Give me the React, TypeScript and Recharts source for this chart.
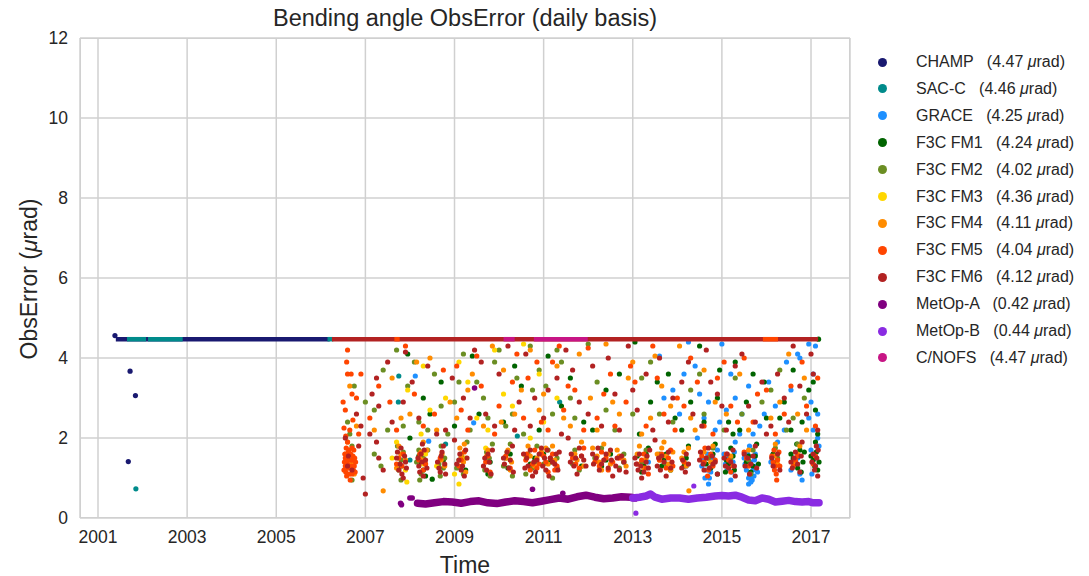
import { ScatterChart, Scatter, XAxis, YAxis, CartesianGrid } from "recharts";

type P = [number, number];

const X_TICKS = [2001, 2003, 2005, 2007, 2009, 2011, 2013, 2015, 2017];
const Y_TICKS = [0, 2, 4, 6, 8, 10, 12];
const FLAT = 4.47;

// flat 4.47 stretches, [start, end] in years
const CHAMP_SEG: P[] = [[2001.4, 2006.2]];
const SACC_SEG: P[] = [[2001.65, 2002.08], [2002.12, 2002.9], [2006.15, 2006.28]];
const FM6_SEG: P[] = [[2006.25, 2017.16]];
const FM5_SEG: P[] = [[2007.65, 2007.77], [2015.92, 2016.26]];
const CNOFS_SEG: P[] = [[2010.1, 2010.35], [2010.78, 2011.99]];

const CHAMP_PTS: P[] = [[2001.38, 4.56], [2001.72, 3.67], [2001.84, 3.06], [2001.68, 1.41]];
const SACC_PTS: P[] = [[2001.85, 0.73], [2007.75, 3.55], [2007.74, 2.9], [2008.8, 1.85], [2010.41, 2.05], [2011.36, 2.9], [2008.0, 1.45]];

const GRACE_PTS: P[] = [
  [2008.12, 3.55], [2008.42, 1.92], [2009.43, 2.38], [2013.35, 1.4], [2013.6, 4.05], [2013.9, 3.2],
  [2014.05, 2.6], [2014.2, 1.3], [2014.55, 1.3], [2014.62, 1.0], [2014.7, 0.85], [2014.75, 1.15],
  [2014.8, 1.5], [2014.85, 2.2], [2014.9, 1.7], [2014.6, 2.5], [2015.05, 1.6], [2015.12, 1.2],
  [2015.2, 0.95], [2015.25, 1.4], [2015.3, 1.9], [2015.1, 2.7], [2015.5, 1.5], [2015.55, 1.2],
  [2015.6, 1.0], [2015.65, 0.9], [2015.68, 1.3], [2015.72, 1.05], [2015.75, 1.6], [2015.8, 1.15],
  [2015.62, 1.8], [2015.7, 2.1], [2016.1, 1.4], [2016.25, 1.9], [2016.55, 1.2], [2016.7, 1.5],
  [2016.8, 0.95], [2017.0, 1.7], [2017.05, 2.2], [2017.1, 1.3], [2017.15, 2.6], [2013.7, 3.0],
  [2014.25, 4.4], [2014.4, 3.8], [2014.5, 3.1], [2014.7, 2.9], [2014.95, 2.4], [2015.0, 4.35],
  [2015.2, 3.6], [2015.3, 3.0], [2015.45, 2.6], [2015.6, 3.3], [2015.85, 2.3], [2016.05, 3.4],
  [2016.2, 2.8], [2016.4, 2.2], [2016.55, 3.2], [2016.7, 4.1], [2016.75, 4.0], [2016.95, 2.5],
  [2017.1, 4.3], [2017.05, 3.6], [2017.0, 2.9], [2017.15, 2.0], [2017.18, 1.8], [2016.95, 4.35],
  [2014.58, 1.45], [2014.65, 1.2], [2014.68, 1.6], [2014.72, 1.0], [2014.78, 1.3], [2014.82, 1.8],
  [2015.08, 1.35], [2015.15, 1.5], [2015.22, 1.15], [2015.28, 1.65], [2015.52, 1.35], [2015.58, 1.6],
  [2015.62, 1.1], [2015.64, 1.4], [2015.66, 1.05], [2015.7, 1.2], [2015.73, 1.45], [2015.77, 1.3],
  [2015.68, 0.95], [2015.6, 0.85], [2016.15, 1.6], [2016.6, 1.4], [2016.75, 1.1], [2017.12, 1.5],
  [2017.02, 1.1], [2014.45, 2.0], [2015.4, 2.1], [2014.15, 3.6], [2015.95, 2.6], [2016.45, 3.9],
];

const FM1_PTS: P[] = [
  [2007.8, 1.3], [2008.2, 1.55], [2008.3, 1.2], [2008.5, 0.97], [2009.2, 1.5], [2009.8, 1.4],
  [2010.25, 1.6], [2010.7, 1.35], [2011.0, 1.6], [2011.3, 1.25], [2011.7, 1.5], [2012.3, 1.3],
  [2012.5, 1.6], [2012.8, 1.4], [2013.1, 1.55], [2013.25, 1.3], [2013.35, 1.75], [2013.7, 1.45],
  [2013.85, 1.2], [2014.2, 1.5], [2014.25, 1.8], [2014.65, 1.35], [2014.8, 1.6], [2014.9, 1.1],
  [2015.1, 1.45], [2015.2, 1.75], [2015.28, 1.2], [2015.6, 1.55], [2015.7, 1.3], [2015.78, 1.85],
  [2016.15, 1.6], [2016.6, 1.5], [2016.7, 1.25], [2016.75, 1.7], [2016.82, 1.4], [2017.05, 1.45],
  [2017.12, 1.65], [2017.15, 1.2], [2007.95, 4.1], [2008.3, 3.0], [2008.45, 2.6], [2009.0, 2.3],
  [2009.4, 4.05], [2010.1, 2.4], [2010.5, 3.3], [2011.1, 4.05], [2011.6, 3.5], [2011.9, 2.4],
  [2012.4, 3.2], [2013.05, 4.4], [2013.4, 2.9], [2013.8, 3.6], [2014.1, 2.2], [2014.5, 4.3],
  [2014.9, 3.0], [2015.15, 2.4], [2015.3, 3.9], [2015.55, 2.9], [2015.95, 3.4], [2016.3, 2.5],
  [2016.6, 3.7], [2016.95, 3.2], [2017.1, 2.7], [2017.17, 4.47],
  [2008.25, 1.4], [2008.35, 1.05], [2008.75, 1.45], [2009.25, 1.2], [2009.75, 1.1], [2010.2, 1.25],
  [2010.8, 1.5], [2011.15, 1.4], [2011.85, 1.3], [2012.4, 1.45], [2013.2, 1.15], [2013.3, 1.6],
  [2013.65, 1.3], [2013.75, 1.6], [2014.15, 1.3], [2014.7, 1.5], [2014.75, 1.25], [2014.85, 1.85],
  [2015.15, 1.35], [2015.25, 1.55], [2015.08, 1.15], [2015.55, 1.4], [2015.65, 1.15], [2015.75, 1.55],
  [2015.82, 1.35], [2016.2, 1.4], [2016.55, 1.6], [2016.65, 1.35], [2016.72, 1.55], [2016.78, 1.15],
  [2016.85, 1.65], [2016.68, 1.85], [2017.0, 1.55], [2017.08, 1.3], [2017.1, 1.9], [2017.18, 1.4],
  [2008.0, 2.0], [2008.7, 3.4], [2009.55, 2.6], [2010.35, 3.8], [2010.9, 2.2], [2011.4, 2.8],
  [2012.1, 2.2], [2012.7, 3.6], [2013.15, 2.1], [2013.55, 3.4], [2013.95, 2.5], [2014.3, 2.9],
  [2014.6, 2.4], [2014.95, 3.7], [2015.4, 2.2], [2015.7, 3.6], [2016.0, 2.5], [2016.4, 2.9],
  [2016.55, 2.2], [2016.8, 2.4], [2017.05, 3.4], [2017.15, 2.1], [2015.25, 2.1],
];

const FM2_PTS: P[] = [
  [2006.7, 1.8], [2006.7, 0.95], [2007.2, 1.6], [2007.35, 1.3], [2007.75, 1.2], [2007.85, 1.65],
  [2007.8, 0.95], [2008.15, 1.4], [2008.25, 1.1], [2008.4, 1.7], [2008.65, 1.35], [2008.7, 1.8],
  [2008.78, 1.5], [2009.05, 1.25], [2009.15, 1.6], [2009.28, 1.9], [2009.68, 1.2], [2009.78, 1.5],
  [2009.85, 1.85], [2010.1, 1.3], [2010.18, 1.65], [2010.3, 1.05], [2010.6, 1.1], [2010.8, 1.4],
  [2011.1, 1.7], [2011.2, 1.0], [2011.65, 1.35], [2012.15, 1.5], [2012.7, 1.25], [2013.2, 1.4],
  [2013.6, 1.6], [2014.7, 1.5], [2015.65, 1.1], [2015.6, 1.45], [2016.2, 1.75], [2006.6, 2.4],
  [2006.75, 3.3], [2007.2, 2.7], [2007.5, 2.2], [2007.7, 4.2], [2007.95, 3.3], [2008.2, 2.4],
  [2008.55, 3.6], [2008.85, 2.1], [2009.0, 2.9], [2009.2, 4.1], [2009.5, 3.4], [2009.75, 2.5],
  [2009.9, 3.9], [2010.15, 2.3], [2010.4, 3.5], [2010.7, 4.3], [2010.75, 3.2], [2010.9, 3.7],
  [2011.2, 2.6], [2011.4, 3.9], [2011.6, 3.0], [2012.0, 4.35], [2012.4, 2.7], [2013.2, 3.5],
  [2013.6, 2.6], [2014.3, 3.2], [2014.5, 3.6], [2015.05, 2.2], [2015.3, 3.5], [2015.9, 2.9],
  [2016.3, 3.7], [2016.6, 2.5],
  [2007.8, 1.45], [2007.72, 1.8], [2008.2, 1.7], [2008.3, 1.5], [2008.22, 0.95], [2008.68, 1.05],
  [2008.75, 1.25], [2009.1, 1.45], [2009.2, 1.1], [2009.72, 1.65], [2009.8, 1.05], [2010.15, 1.5],
  [2010.25, 1.85], [2010.65, 1.6], [2010.75, 1.25], [2010.85, 1.8], [2011.0, 1.35], [2011.3, 1.5],
  [2011.7, 1.7], [2011.8, 1.2], [2012.3, 1.75], [2012.8, 1.6], [2013.3, 1.7], [2013.75, 1.35],
  [2014.2, 1.35], [2014.8, 1.75], [2015.2, 1.5], [2015.7, 1.7], [2016.25, 1.5], [2016.7, 1.85],
  [2006.65, 2.1], [2007.0, 2.9], [2007.4, 3.7], [2007.85, 2.3], [2008.1, 3.9], [2008.4, 2.2],
  [2008.7, 2.8], [2009.1, 3.4], [2009.35, 2.2], [2009.65, 3.0], [2010.0, 4.2], [2010.3, 2.6],
  [2010.55, 2.1], [2011.05, 3.3], [2011.3, 4.2], [2011.7, 2.5], [2012.2, 3.4], [2012.6, 2.2],
  [2013.0, 2.6], [2013.4, 3.9], [2013.9, 2.4], [2014.6, 2.6], [2015.45, 2.6], [2016.1, 3.2],
  [2016.45, 2.2], [2016.85, 3.0],
];

const FM3_PTS: P[] = [
  [2007.6, 1.5], [2007.7, 1.9], [2007.9, 1.2], [2008.3, 1.35], [2008.35, 1.6], [2008.6, 1.3],
  [2009.0, 1.1], [2009.25, 1.5], [2009.7, 1.75], [2010.25, 1.45], [2010.6, 1.55], [2007.93, 0.9],
  [2009.1, 0.85], [2007.95, 3.2], [2008.3, 3.8], [2008.45, 2.7], [2008.8, 3.0], [2009.1, 3.9],
  [2009.3, 3.4], [2009.5, 2.5], [2009.9, 4.2], [2010.1, 3.1], [2010.3, 2.8], [2010.55, 4.35],
  [2010.9, 3.6], [2011.0, 2.4], [2011.3, 3.0], [2008.25, 2.1], [2009.75, 2.2], [2010.7, 2.0],
];

const FM4_PTS: P[] = [
  [2006.55, 1.6], [2006.7, 1.4], [2007.75, 1.8], [2007.9, 1.45], [2008.25, 1.65], [2008.35, 1.35],
  [2008.3, 1.9], [2008.72, 1.6], [2008.78, 1.3], [2009.12, 1.75], [2009.2, 1.4], [2009.25, 1.15],
  [2009.72, 1.55], [2010.2, 1.7], [2010.28, 1.4], [2010.65, 1.8], [2010.85, 1.5], [2011.05, 1.75],
  [2011.25, 1.45], [2011.7, 1.6], [2011.85, 1.9], [2012.2, 1.55], [2012.35, 1.85], [2012.5, 1.35],
  [2012.65, 1.7], [2012.8, 1.45], [2013.15, 1.8], [2013.3, 1.5], [2013.55, 1.6], [2013.7, 1.9],
  [2013.8, 1.35], [2013.9, 1.65], [2014.1, 1.5], [2014.25, 1.75], [2014.6, 1.65], [2014.75, 1.4],
  [2015.2, 1.55], [2015.6, 1.7], [2016.18, 1.55], [2016.7, 1.6], [2006.8, 2.3], [2007.4, 0.68],
  [2007.6, 3.5], [2008.0, 2.6], [2008.45, 4.0], [2008.9, 2.9], [2009.4, 3.6], [2009.85, 4.3],
  [2010.05, 2.4], [2010.5, 3.2], [2010.9, 2.7], [2011.3, 3.8], [2011.6, 2.3], [2012.05, 3.0],
  [2012.4, 4.35], [2012.7, 2.6], [2013.0, 3.9], [2013.4, 2.5], [2013.65, 3.3], [2014.05, 4.3],
  [2014.4, 2.2], [2014.85, 2.9], [2015.4, 3.6], [2016.1, 2.5], [2016.5, 4.1], [2016.9, 2.2],
  [2014.26, 0.68],
  [2007.8, 1.6], [2007.7, 1.25], [2008.22, 1.5], [2008.3, 1.45], [2008.38, 1.7], [2008.7, 1.45],
  [2009.15, 1.55], [2009.22, 1.85], [2009.75, 1.7], [2010.15, 1.5], [2010.25, 1.2], [2010.7, 1.55],
  [2010.8, 1.3], [2010.95, 1.65], [2011.1, 1.35], [2011.2, 1.8], [2011.75, 1.45], [2011.9, 1.3],
  [2012.1, 1.75], [2012.25, 1.4], [2012.3, 1.2], [2012.45, 1.6], [2012.7, 1.55], [2012.85, 1.3],
  [2013.1, 1.6], [2013.25, 1.25], [2013.6, 1.45], [2013.65, 1.75], [2013.75, 1.55], [2013.85, 1.2],
  [2014.15, 1.65], [2014.2, 1.3], [2014.65, 1.5], [2014.8, 1.8], [2016.2, 1.85], [2016.25, 1.35],
  [2016.65, 1.4], [2016.75, 1.8], [2006.6, 1.9], [2006.75, 1.1],
  [2006.65, 3.3], [2007.2, 2.2], [2007.8, 2.5], [2008.15, 3.9], [2008.6, 2.2], [2009.05, 2.5],
  [2009.3, 3.2], [2009.65, 2.3], [2010.1, 3.7], [2010.35, 2.6], [2010.7, 4.2], [2011.0, 3.1],
  [2011.45, 2.5], [2011.8, 4.1], [2012.2, 2.2], [2012.55, 2.9], [2012.9, 3.5], [2013.2, 2.1],
  [2013.5, 4.05], [2013.85, 2.8], [2014.3, 2.5], [2014.6, 3.7], [2015.1, 2.6], [2015.6, 2.2],
  [2016.3, 2.9], [2016.7, 2.6], [2016.85, 3.5],
];

const FM5_PTS: P[] = [
  [2006.52, 1.2], [2006.55, 1.5], [2006.58, 1.05], [2006.6, 1.35], [2006.62, 1.65], [2006.65, 1.25],
  [2006.68, 1.45], [2006.7, 1.1], [2006.72, 1.55], [2006.75, 1.3], [2006.57, 1.75], [2006.66, 0.95],
  [2006.74, 1.7], [2006.6, 4.2], [2006.6, 3.6], [2006.68, 3.6], [2006.5, 2.9], [2006.52, 2.25],
  [2006.56, 2.05], [2006.65, 2.2], [2006.8, 3.0], [2006.72, 2.45], [2006.6, 1.9], [2007.7, 1.35],
  [2007.85, 1.6], [2008.2, 1.45], [2008.3, 1.2], [2008.68, 1.5], [2009.1, 1.3], [2009.22, 1.65],
  [2009.7, 1.4], [2009.8, 1.15], [2010.15, 1.55], [2010.25, 1.25], [2010.6, 1.45], [2010.7, 1.2],
  [2010.8, 1.7], [2010.9, 1.35], [2011.0, 1.55], [2011.1, 1.15], [2011.2, 1.6], [2011.3, 1.3],
  [2011.65, 1.5], [2011.8, 1.25], [2011.9, 1.75], [2012.15, 1.4], [2012.3, 1.65], [2012.45, 1.2],
  [2012.7, 1.5], [2013.1, 1.35], [2013.25, 1.6], [2013.35, 1.1], [2013.6, 1.45], [2013.75, 1.25],
  [2013.85, 1.7], [2014.15, 1.4], [2014.55, 1.55], [2014.7, 1.2], [2014.85, 1.45], [2015.1, 1.6],
  [2015.25, 1.3], [2015.55, 1.5], [2016.15, 1.4], [2016.22, 1.1], [2016.28, 1.65], [2016.2, 1.3],
  [2016.65, 1.45], [2017.05, 1.35], [2006.9, 3.6], [2007.1, 2.5], [2007.55, 2.9], [2007.9, 4.3],
  [2008.1, 3.1], [2008.55, 2.6], [2009.05, 3.8], [2009.3, 2.2], [2009.6, 3.3], [2010.0, 2.8],
  [2010.4, 4.1], [2010.65, 3.5], [2010.95, 2.4], [2011.2, 3.9], [2011.45, 2.7], [2011.7, 3.2],
  [2012.0, 4.25], [2012.2, 2.5], [2012.5, 3.6], [2012.85, 2.9], [2013.05, 3.4], [2013.45, 4.3],
  [2013.7, 2.6], [2014.0, 3.0], [2014.3, 4.0], [2014.6, 2.3], [2014.9, 3.5], [2015.2, 2.8],
  [2015.5, 4.0], [2015.7, 2.4], [2016.0, 3.2], [2016.4, 2.6], [2016.8, 3.9], [2017.1, 2.3],
  [2006.53, 1.4], [2006.54, 1.6], [2006.56, 1.15], [2006.59, 1.55], [2006.61, 1.25], [2006.63, 1.45],
  [2006.64, 1.1], [2006.67, 1.6], [2006.69, 1.3], [2006.71, 1.45], [2006.73, 1.2], [2006.76, 1.5],
  [2006.78, 1.4], [2006.55, 1.3], [2006.63, 1.7], [2006.7, 1.75], [2006.58, 1.45], [2006.77, 1.15],
  [2007.75, 1.5], [2007.82, 1.3], [2008.22, 1.6], [2008.35, 1.35], [2009.15, 1.45], [2009.75, 1.55],
  [2010.62, 1.6], [2010.75, 1.35], [2010.85, 1.25], [2010.95, 1.6], [2011.05, 1.4], [2011.15, 1.5],
  [2011.25, 1.2], [2011.72, 1.35], [2011.85, 1.55], [2012.25, 1.3], [2012.4, 1.5], [2012.55, 1.4],
  [2013.2, 1.45], [2013.3, 1.25], [2013.65, 1.6], [2013.8, 1.5], [2013.9, 1.3], [2014.6, 1.4],
  [2014.75, 1.6], [2014.8, 1.3], [2014.62, 1.75], [2014.68, 1.05], [2015.15, 1.45], [2015.2, 1.15],
  [2015.6, 1.3], [2015.5, 1.65], [2016.12, 1.55], [2016.18, 1.2], [2016.25, 1.45], [2016.3, 1.3],
  [2016.17, 1.7], [2016.23, 0.95], [2016.6, 1.3], [2016.7, 1.55], [2017.1, 1.55],
  [2006.55, 2.7], [2006.7, 3.1], [2006.58, 3.9], [2006.85, 2.1], [2007.3, 3.3], [2007.7, 2.2],
  [2008.3, 2.3], [2008.75, 3.7], [2009.15, 2.7], [2009.5, 4.05], [2009.9, 2.1], [2010.3, 3.4],
  [2010.55, 2.5], [2010.85, 3.9], [2011.1, 2.2], [2011.35, 4.3], [2011.55, 3.3], [2011.9, 2.2],
  [2012.35, 3.1], [2012.6, 2.3], [2012.95, 3.8], [2013.3, 2.3], [2013.55, 3.5], [2013.95, 2.2],
  [2014.15, 2.8], [2014.45, 3.4], [2014.8, 2.1], [2015.05, 3.9], [2015.35, 2.4], [2015.8, 3.1],
  [2016.2, 2.1], [2016.55, 3.3], [2016.9, 2.8], [2017.15, 3.5],
];

const FM6_PTS: P[] = [
  [2006.6, 1.3], [2006.85, 1.8], [2006.95, 1.0], [2007.0, 0.6], [2007.25, 1.9], [2007.3, 1.5],
  [2007.4, 1.2], [2007.7, 1.5], [2007.75, 1.2], [2007.8, 1.75], [2007.85, 1.0], [2007.9, 1.4],
  [2008.2, 1.3], [2008.25, 1.6], [2008.3, 1.05], [2008.35, 1.45], [2008.28, 1.85], [2008.65, 1.25],
  [2008.7, 1.55], [2008.75, 1.8], [2008.8, 1.1], [2009.1, 1.45], [2009.15, 1.2], [2009.25, 1.7],
  [2009.65, 1.3], [2009.75, 1.6], [2009.82, 1.1], [2010.1, 1.5], [2010.22, 1.25], [2010.3, 1.8],
  [2010.55, 1.6], [2010.65, 1.3], [2010.75, 1.05], [2010.85, 1.45], [2010.95, 1.75], [2011.05, 1.2],
  [2011.15, 1.5], [2011.25, 1.35], [2011.35, 1.65], [2011.6, 1.4], [2011.75, 1.1], [2011.85, 1.55],
  [2011.95, 1.3], [2012.1, 1.6], [2012.25, 1.2], [2012.35, 1.45], [2012.5, 1.7], [2012.55, 1.05],
  [2012.62, 1.3], [2012.75, 1.55], [2012.85, 1.15], [2013.05, 1.5], [2013.12, 1.2], [2013.2, 1.0],
  [2013.3, 1.4], [2013.38, 1.7], [2013.55, 1.3], [2013.65, 1.55], [2013.75, 1.05], [2013.88, 1.4],
  [2014.1, 1.25], [2014.2, 1.6], [2014.5, 1.45], [2014.6, 1.2], [2014.7, 1.75], [2014.8, 1.35],
  [2014.9, 1.1], [2015.05, 1.5], [2015.15, 1.25], [2015.25, 1.7], [2015.3, 1.05], [2015.5, 1.6],
  [2015.65, 1.35], [2015.75, 1.8], [2016.12, 1.5], [2016.3, 1.2], [2016.55, 1.4], [2016.65, 1.65],
  [2016.75, 1.15], [2016.8, 1.9], [2017.05, 1.6], [2017.1, 1.3], [2017.15, 1.05], [2017.12, 1.8],
  [2006.8, 2.6], [2007.1, 2.1], [2007.25, 3.5], [2007.3, 2.8], [2007.5, 3.9], [2007.9, 4.15],
  [2008.2, 2.5], [2008.4, 3.8], [2008.8, 2.2], [2009.2, 3.0], [2009.45, 4.2], [2009.7, 2.6],
  [2010.0, 3.6], [2010.35, 2.2], [2010.6, 4.1], [2010.8, 3.0], [2011.0, 2.5], [2011.3, 3.5],
  [2011.5, 4.2], [2011.8, 2.9], [2012.1, 3.8], [2012.3, 2.3], [2012.6, 3.1], [2012.9, 4.3],
  [2013.1, 2.7], [2013.3, 3.6], [2013.6, 4.0], [2013.8, 2.4], [2014.1, 3.4], [2014.35, 2.6],
  [2014.65, 4.2], [2014.9, 3.1], [2015.1, 2.2], [2015.3, 3.8], [2015.6, 2.8], [2015.9, 3.4],
  [2016.1, 2.3], [2016.4, 3.0], [2016.6, 4.3], [2016.9, 2.6], [2017.05, 3.6],
  [2006.62, 1.55], [2006.7, 1.2], [2007.72, 1.65], [2007.78, 1.35], [2007.82, 1.1], [2007.88, 1.55],
  [2007.92, 1.25], [2008.18, 1.5], [2008.22, 1.15], [2008.27, 1.4], [2008.32, 1.7], [2008.38, 1.25],
  [2008.62, 1.4], [2008.68, 1.15], [2008.72, 1.65], [2008.78, 1.35], [2009.05, 1.35], [2009.12, 1.6],
  [2009.18, 1.3], [2009.22, 1.05], [2009.28, 1.5], [2009.68, 1.5], [2009.72, 1.2], [2009.78, 1.4],
  [2009.85, 1.7], [2010.12, 1.35], [2010.18, 1.65], [2010.25, 1.45], [2010.32, 1.15], [2010.58, 1.25],
  [2010.62, 1.5], [2010.7, 1.7], [2010.78, 1.4], [2010.82, 1.15], [2010.9, 1.6], [2010.98, 1.3],
  [2011.02, 1.5], [2011.08, 1.7], [2011.12, 1.05], [2011.2, 1.4], [2011.28, 1.6], [2011.32, 1.2],
  [2011.62, 1.6], [2011.68, 1.3], [2011.72, 1.5], [2011.8, 1.75], [2011.9, 1.45], [2012.12, 1.35],
  [2012.18, 1.5], [2012.22, 1.75], [2012.3, 1.35], [2012.4, 1.6], [2012.45, 1.25], [2012.52, 1.45],
  [2012.65, 1.5], [2012.7, 1.2], [2012.8, 1.4], [2013.08, 1.35], [2013.15, 1.6], [2013.18, 1.3],
  [2013.25, 1.15], [2013.32, 1.55], [2013.35, 1.25], [2013.58, 1.5], [2013.62, 1.2], [2013.7, 1.4],
  [2013.8, 1.65], [2013.85, 1.25], [2014.12, 1.45], [2014.18, 1.15], [2014.25, 1.35], [2014.52, 1.65],
  [2014.58, 1.35], [2014.65, 1.5], [2014.72, 1.25], [2014.78, 1.55], [2014.85, 1.4], [2015.08, 1.3],
  [2015.12, 1.6], [2015.2, 1.4], [2015.28, 1.3], [2015.52, 1.3], [2015.58, 1.5], [2015.62, 1.1],
  [2015.7, 1.55], [2015.78, 1.25], [2016.15, 1.3], [2016.25, 1.6], [2016.58, 1.25], [2016.62, 1.5],
  [2016.7, 1.35], [2016.78, 1.55], [2017.02, 1.4], [2017.08, 1.2], [2017.13, 1.5], [2017.16, 1.7],
  [2006.55, 2.0], [2006.9, 2.3], [2007.15, 3.1], [2007.6, 2.4], [2007.85, 2.9], [2008.05, 3.4],
  [2008.6, 2.1], [2008.95, 3.5], [2009.35, 2.5], [2009.6, 3.9], [2009.9, 2.3], [2010.2, 4.3],
  [2010.45, 2.9], [2010.7, 2.3], [2011.1, 3.2], [2011.4, 2.1], [2011.65, 3.7], [2012.0, 2.6],
  [2012.45, 4.0], [2012.7, 2.2], [2013.0, 3.2], [2013.45, 2.2], [2013.9, 3.0], [2014.25, 3.9],
  [2014.55, 2.3], [2014.75, 3.4], [2015.0, 2.8], [2015.45, 4.1], [2015.75, 2.4], [2016.0, 2.1],
  [2016.25, 3.6], [2016.5, 2.4], [2016.75, 3.3], [2017.0, 4.1], [2017.15, 2.2], [2009.0, 1.95],
  [2011.55, 2.0], [2013.5, 1.95],
];

const METOPA_BAND: P[] = [
  [2008.17, 0.37], [2008.35, 0.35], [2008.55, 0.38], [2008.75, 0.41], [2008.95, 0.4], [2009.15, 0.37],
  [2009.35, 0.41], [2009.55, 0.43], [2009.75, 0.38], [2009.95, 0.36], [2010.15, 0.4], [2010.35, 0.43],
  [2010.55, 0.41], [2010.75, 0.38], [2010.95, 0.42], [2011.15, 0.46], [2011.35, 0.5], [2011.55, 0.47],
  [2011.75, 0.53], [2011.95, 0.57], [2012.15, 0.52], [2012.35, 0.48], [2012.55, 0.5], [2012.75, 0.53],
  [2012.95, 0.52], [2013.05, 0.5],
];
const METOPA_PTS: P[] = [[2007.79, 0.37], [2007.81, 0.33], [2008.0, 0.5], [2008.05, 0.5], [2010.75, 0.72], [2011.43, 0.62], [2009.45, 3.25]];

const METOPB_BAND: P[] = [
  [2013.0, 0.5], [2013.15, 0.52], [2013.3, 0.55], [2013.4, 0.6], [2013.5, 0.52], [2013.65, 0.47],
  [2013.85, 0.5], [2014.05, 0.5], [2014.25, 0.47], [2014.45, 0.5], [2014.65, 0.52], [2014.85, 0.55],
  [2015.0, 0.56], [2015.15, 0.55], [2015.3, 0.57], [2015.45, 0.52], [2015.6, 0.45], [2015.75, 0.43],
  [2015.9, 0.5], [2016.05, 0.47], [2016.2, 0.4], [2016.35, 0.42], [2016.5, 0.44], [2016.65, 0.41],
  [2016.8, 0.4], [2016.95, 0.41], [2017.05, 0.38], [2017.18, 0.38],
];
const METOPB_PTS: P[] = [[2013.07, 0.12], [2014.37, 0.8]];

const LEGEND = [
  { name: "CHAMP", val: "4.47", color: "#191970" },
  { name: "SAC-C", val: "4.46", color: "#008b8b" },
  { name: "GRACE", val: "4.25", color: "#1e90ff" },
  { name: "F3C FM1", val: "4.24", color: "#006400" },
  { name: "F3C FM2", val: "4.02", color: "#6b8e23" },
  { name: "F3C FM3", val: "4.36", color: "#ffd700" },
  { name: "F3C FM4", val: "4.11", color: "#ff8c00" },
  { name: "F3C FM5", val: "4.04", color: "#ff4500" },
  { name: "F3C FM6", val: "4.12", color: "#b22222" },
  { name: "MetOp-A", val: "0.42", color: "#800080" },
  { name: "MetOp-B", val: "0.44", color: "#8a2be2" },
  { name: "C/NOFS", val: "4.47", color: "#c71585" },
];

const toXY = (pts: P[]) => pts.map(([x, y]) => ({ x, y }));
const segXY = (s: P) => [{ x: s[0], y: FLAT }, { x: s[1], y: FLAT }];

const dot = (color: string, r = 2.6) => (p: any) => <circle cx={p.cx} cy={p.cy} r={r} fill={color} />;
const none = () => <g />;

const FONT = "'Liberation Sans', Arial, Helvetica, sans-serif";
const TXT = "#262626";

export default function App() {
  const seg = (segs: P[], color: string, key: string) =>
    segs.map((s, i) => (
      <Scatter
        key={key + i}
        data={segXY(s)}
        fill={color}
        line={{ stroke: color, strokeWidth: 4.5, strokeLinecap: "butt" }}
        shape={none}
        isAnimationActive={false}
      />
    ));
  const pts = (data: P[], color: string, r = 2.6) => (
    <Scatter data={toXY(data)} fill={color} shape={dot(color, r)} isAnimationActive={false} />
  );
  const band = (data: P[], color: string) => (
    <Scatter
      data={toXY(data)}
      fill={color}
      line={{ stroke: color, strokeWidth: 7.5, strokeLinecap: "round", strokeLinejoin: "round" }}
      shape={none}
      isAnimationActive={false}
    />
  );

  return (
    <div style={{ position: "absolute", left: 0, top: 0, width: 1089, height: 576, background: "#fff", fontFamily: FONT }}>
      <ScatterChart width={1089} height={576} margin={{ top: 38, right: 239, bottom: 28, left: 40 }}>
        <CartesianGrid stroke="#d0d0d0" strokeWidth={1.5} />
        <XAxis
          type="number"
          dataKey="x"
          domain={[2000.596, 2017.875]}
          ticks={X_TICKS}
          allowDataOverflow
          tickLine={false}
          axisLine={false}
          height={30}
          tickMargin={7}
          tick={{ fill: TXT, fontSize: 17.5, fontFamily: FONT }}
        />
        <YAxis
          type="number"
          dataKey="y"
          domain={[0, 12]}
          ticks={Y_TICKS}
          allowDataOverflow
          tickLine={false}
          axisLine={false}
          width={40}
          tickMargin={6}
          tick={{ fill: TXT, fontSize: 17.5, fontFamily: FONT }}
        />
        {seg(CHAMP_SEG, "#191970", "ch")}
        {pts(CHAMP_PTS, "#191970")}
        {seg(SACC_SEG, "#008b8b", "sc")}
        {pts(SACC_PTS, "#008b8b")}
        {pts(GRACE_PTS, "#1e90ff")}
        {pts(FM1_PTS, "#006400")}
        {pts(FM2_PTS, "#6b8e23")}
        {pts(FM3_PTS, "#ffd700")}
        {pts(FM4_PTS, "#ff8c00")}
        {pts(FM5_PTS, "#ff4500")}
        {pts(FM6_PTS, "#b22222")}
        {seg(FM6_SEG, "#b22222", "f6")}
        {seg(FM5_SEG, "#ff4500", "f5")}
        {band(METOPA_BAND, "#800080")}
        {pts(METOPA_PTS, "#800080", 2.8)}
        {band(METOPB_BAND, "#8a2be2")}
        {pts(METOPB_PTS, "#8a2be2")}
        {seg(CNOFS_SEG, "#c71585", "cn")}
      </ScatterChart>

      {/* frame */}
      <div style={{ position: "absolute", left: 80, top: 38, width: 770, height: 480, border: "1.5px solid #d0d0d0", boxSizing: "border-box", pointerEvents: "none" }} />

      <div style={{ position: "absolute", left: 80, width: 770, top: 5, textAlign: "center", fontSize: 23.5, color: TXT }}>
        Bending angle ObsError (daily basis)
      </div>
      <div style={{ position: "absolute", left: 80, width: 770, top: 552, textAlign: "center", fontSize: 23, color: TXT }}>Time</div>
      <div
        style={{
          position: "absolute",
          left: 29,
          top: 279,
          transform: "translate(-50%, -50%) rotate(-90deg)",
          whiteSpace: "nowrap",
          fontSize: 23,
          color: TXT,
        }}
      >
        ObsError (<i>μ</i>rad)
      </div>

      {LEGEND.map((l, i) => (
        <div key={l.name} style={{ position: "absolute", left: 878, top: 53 + i * 26.9, height: 18, display: "flex", alignItems: "center" }}>
          <span style={{ width: 9, height: 9, borderRadius: "50%", background: l.color, display: "inline-block" }} />
          <span style={{ marginLeft: 29, fontSize: 16, color: TXT, whiteSpace: "pre" }}>
            {l.name + "   (" + l.val + " "}
            <i>μ</i>
            {"rad)"}
          </span>
        </div>
      ))}
    </div>
  );
}
